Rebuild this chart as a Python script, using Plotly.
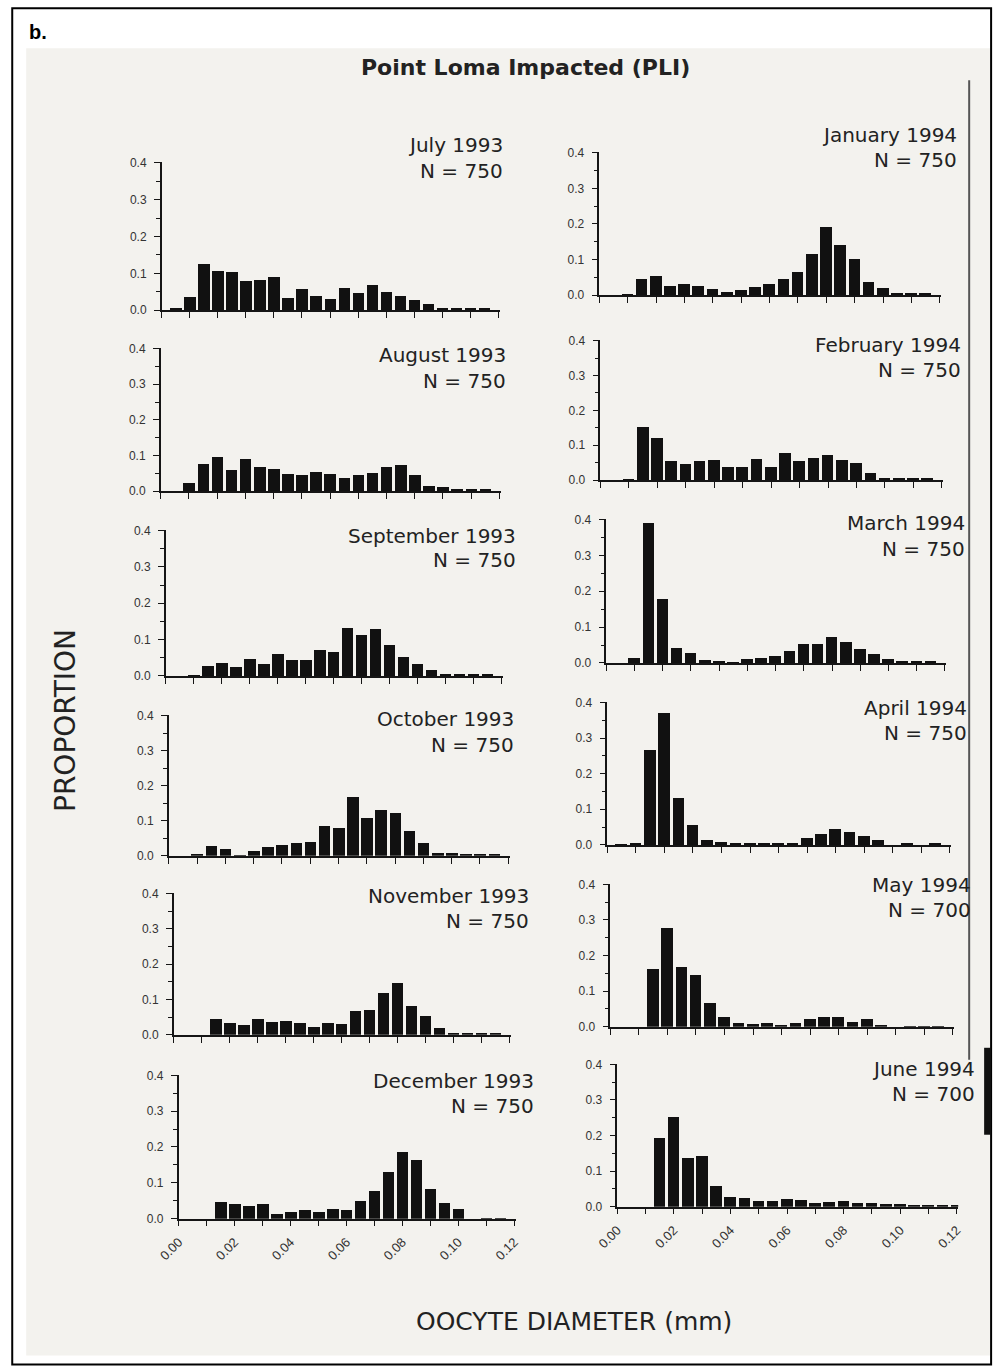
import plotly.graph_objects as go

# ---------------- data ----------------
bin_centers = [0.005, 0.010, 0.015, 0.020, 0.025, 0.030, 0.035, 0.040, 0.045, 0.050,
               0.055, 0.060, 0.065, 0.070, 0.075, 0.080, 0.085, 0.090, 0.095, 0.100,
               0.105, 0.110, 0.115, 0.120]

july = [0.003, 0.035, 0.125, 0.105, 0.102, 0.078, 0.082, 0.090, 0.032, 0.056, 0.037, 0.030,
        0.060, 0.045, 0.068, 0.050, 0.037, 0.026, 0.015, 0.005, 0.004, 0.004, 0.004, 0.0]
aug = [0.0, 0.022, 0.077, 0.094, 0.060, 0.089, 0.068, 0.061, 0.047, 0.044, 0.052, 0.048,
       0.037, 0.045, 0.050, 0.068, 0.072, 0.046, 0.015, 0.011, 0.003, 0.003, 0.003, 0.0]
sep = [0.0, 0.002, 0.026, 0.035, 0.024, 0.047, 0.033, 0.061, 0.043, 0.043, 0.072, 0.065,
       0.132, 0.112, 0.130, 0.085, 0.051, 0.033, 0.016, 0.003, 0.003, 0.003, 0.003, 0.0]
octo = [0.0, 0.006, 0.029, 0.021, 0.002, 0.013, 0.026, 0.032, 0.036, 0.040, 0.085, 0.079,
        0.168, 0.108, 0.130, 0.122, 0.070, 0.036, 0.009, 0.008, 0.006, 0.004, 0.004, 0.0]
nov = [0.0, 0.0, 0.046, 0.034, 0.028, 0.046, 0.036, 0.040, 0.034, 0.023, 0.033, 0.032,
       0.067, 0.070, 0.118, 0.147, 0.082, 0.054, 0.019, 0.005, 0.003, 0.003, 0.003, 0.0]
dec = [0.0, 0.0, 0.046, 0.043, 0.037, 0.042, 0.015, 0.019, 0.024, 0.020, 0.027, 0.026,
       0.050, 0.079, 0.130, 0.188, 0.165, 0.084, 0.044, 0.029, 0.0, 0.002, 0.002, 0.0]
jan = [0.0, 0.002, 0.044, 0.053, 0.024, 0.031, 0.024, 0.016, 0.008, 0.014, 0.022, 0.031,
       0.046, 0.065, 0.114, 0.191, 0.140, 0.100, 0.037, 0.020, 0.003, 0.003, 0.003, 0.0]
feb = [0.0, 0.002, 0.153, 0.121, 0.055, 0.046, 0.054, 0.058, 0.038, 0.037, 0.059, 0.036,
       0.078, 0.054, 0.063, 0.072, 0.056, 0.050, 0.019, 0.003, 0.003, 0.003, 0.003, 0.0]
mar = [0.0, 0.014, 0.389, 0.179, 0.043, 0.028, 0.009, 0.006, 0.002, 0.010, 0.015, 0.019,
       0.033, 0.052, 0.052, 0.072, 0.057, 0.039, 0.025, 0.012, 0.004, 0.004, 0.004, 0.0]
apr = [0.002, 0.004, 0.267, 0.371, 0.133, 0.056, 0.013, 0.007, 0.004, 0.003, 0.005, 0.003,
       0.004, 0.019, 0.030, 0.045, 0.036, 0.025, 0.013, 0.0, 0.003, 0.0, 0.003, 0.0]
may = [0.0, 0.0, 0.164, 0.278, 0.167, 0.145, 0.067, 0.027, 0.010, 0.007, 0.010, 0.006,
       0.010, 0.023, 0.029, 0.028, 0.013, 0.022, 0.003, 0.0, 0.002, 0.002, 0.002, 0.0]
jun = [0.0, 0.0, 0.195, 0.253, 0.138, 0.144, 0.060, 0.028, 0.024, 0.017, 0.016, 0.021,
       0.020, 0.012, 0.013, 0.018, 0.012, 0.011, 0.008, 0.007, 0.004, 0.004, 0.004, 0.004]

month_names = ["July 1993", "August 1993", "September 1993", "October 1993",
               "November 1993", "December 1993", "January 1994", "February 1994",
               "March 1994", "April 1994", "May 1994", "June 1994"]
sample_sizes = [750, 750, 750, 750, 750, 750, 750, 750, 750, 750, 700, 700]
series = [july, aug, sep, octo, nov, dec, jan, feb, mar, apr, may, jun]

y_tickvals = [0.0, 0.1, 0.2, 0.3, 0.4]
y_ticktext = ["0.0", "0.1", "0.2", "0.3", "0.4"]
x_tickvals = [0.00, 0.02, 0.04, 0.06, 0.08, 0.10, 0.12]
x_ticktext = ["0.00", "0.02", "0.04", "0.06", "0.08", "0.10", "0.12"]

# ---------------- layout (pixel geometry) ----------------
W, H = 996, 1369
# compensation for the capture offset/scale observed in test renders
SX, OX = 0.976, 17.8
SY, OY = 0.991, 5.7

# panel boxes: left px, right px, top px (0.4), bottom px (0.0)
panels = [
    (158, 497, 162, 310), (157, 498, 348, 491), (162, 500, 530, 676),
    (165, 507, 715, 856), (170, 508, 893, 1035), (175, 513, 1075, 1219),
    (597, 940, 152, 295), (598, 942, 340, 480), (604, 945, 519, 663),
    (605, 950, 702, 845), (608, 953, 884, 1027), (615, 957, 1064, 1207),
]
# label positions (right edge px, first line middle px, second line middle px)
label_pos = [
    (502, 145, 171), (505, 355, 381), (515, 536, 560), (513, 719, 745),
    (528, 896, 921), (533, 1081, 1106), (958, 135, 160), (962, 345, 370),
    (966, 523, 549), (968, 708, 733), (972, 885, 910), (976, 1069, 1094),
]
bottom_panels = {5, 11}

FONT = "Liberation Sans, Arial, Helvetica, sans-serif"
WFONT = "DejaVu Sans, Liberation Sans, Arial, sans-serif"
INK = "#151515"


def px(x):
    return ((x - OX) / SX) / W


def py(y):
    return 1 - ((y - OY) / SY) / H


fig = go.Figure()
layout = dict(
    width=W, height=H, autosize=False,
    margin=dict(l=0, r=0, t=0, b=0, pad=0),
    paper_bgcolor="white",
    plot_bgcolor="rgba(0,0,0,0)",
    showlegend=False,
    font=dict(family=FONT, color=INK),
    bargap=0,
)

annotations = []
for i, (vals, name, n) in enumerate(zip(series, month_names, sample_sizes)):
    k = "" if i == 0 else str(i + 1)
    x0, x1, yt, yb = panels[i]
    fig.add_trace(go.Bar(
        x=bin_centers, y=vals, width=0.0041,
        marker=dict(color="#111111", line=dict(width=0)),
        xaxis="x" + k, yaxis="y" + k, showlegend=False,
    ))
    layout["xaxis" + k] = dict(
        domain=[px(x0), px(x1)], range=[0, 0.1205], anchor="y" + k,
        showline=True, linecolor=INK, linewidth=1.5,
        ticks="outside", ticklen=6, tickwidth=1.3, tickcolor=INK,
        tickmode="array", tickvals=x_tickvals, ticktext=x_ticktext,
        showticklabels=(i in bottom_panels), tickangle=-45,
        tickfont=dict(size=13, color="#333"), ticklabelstandoff=3,
        minor=dict(dtick=0.01, tick0=0, ticks="outside", ticklen=6,
                   tickwidth=1.3, tickcolor=INK, showgrid=False),
        showgrid=False, zeroline=False, fixedrange=True,
    )
    layout["yaxis" + k] = dict(
        domain=[py(yb), py(yt)], range=[0, 0.4015], anchor="x" + k,
        showline=True, linecolor=INK, linewidth=1.5,
        ticks="outside", ticklen=6, tickwidth=1.3, tickcolor=INK,
        tickmode="array", tickvals=y_tickvals, ticktext=y_ticktext,
        tickfont=dict(size=12, color="#333"), ticklabelstandoff=5,
        minor=dict(dtick=0.05, tick0=0, ticks="outside", ticklen=4,
                   tickwidth=1.2, tickcolor=INK, showgrid=False),
        showgrid=False, zeroline=False, fixedrange=True,
    )
    lx, l1, l2 = label_pos[i]
    for txt, ly in ((name, l1), (f"N = {n}", l2)):
        annotations.append(dict(
            x=px(lx), y=py(ly), xref="paper", yref="paper",
            xanchor="right", yanchor="middle", align="right", showarrow=False,
            text=txt, font=dict(family=WFONT, size=20, color="#222"),
        ))

annotations += [
    dict(x=px(23), y=py(32), xref="paper", yref="paper", xanchor="left",
         yanchor="middle", showarrow=False, text="<b>b.</b>",
         font=dict(family=FONT, size=20, color="#000")),
    dict(x=px(523), y=py(67), xref="paper", yref="paper", xanchor="center",
         yanchor="middle", showarrow=False, text="<b>Point Loma Impacted (PLI)</b>",
         font=dict(family=WFONT, size=22, color="#222")),
    dict(x=px(62), y=py(721), xref="paper", yref="paper", xanchor="center",
         yanchor="middle", showarrow=False, text="PROPORTION", textangle=-90,
         font=dict(family=WFONT, size=28, color="#222")),
    dict(x=px(572), y=py(1322), xref="paper", yref="paper", xanchor="center",
         yanchor="middle", showarrow=False, text="OOCYTE DIAMETER (mm)",
         font=dict(family=WFONT, size=25, color="#222")),
]
layout["annotations"] = annotations

layout["shapes"] = [
    dict(type="rect", xref="paper", yref="paper", x0=px(22), x1=px(989),
         y0=py(1356), y1=py(48), fillcolor="#f3f2ee", line=dict(width=0),
         layer="below"),
    dict(type="rect", xref="paper", yref="paper", x0=px(8), x1=px(990),
         y0=py(1365), y1=py(8), line=dict(color="#000", width=2),
         fillcolor="rgba(0,0,0,0)", layer="above"),
    dict(type="line", xref="paper", yref="paper", x0=px(968), x1=px(968),
         y0=py(80), y1=py(1060), line=dict(color="#555", width=2), layer="below"),
    dict(type="rect", xref="paper", yref="paper", x0=px(983), x1=px(990),
         y0=py(1135), y1=py(1048), fillcolor="#111", line=dict(width=0),
         layer="above"),
]

fig.update_layout(**layout)
fig.write_html(
    "out.html",
    config={"responsive": False, "displayModeBar": False},
    post_script="document.body.style.margin='0';document.body.style.padding='0';"
                "document.body.style.overflow='hidden';",
)
